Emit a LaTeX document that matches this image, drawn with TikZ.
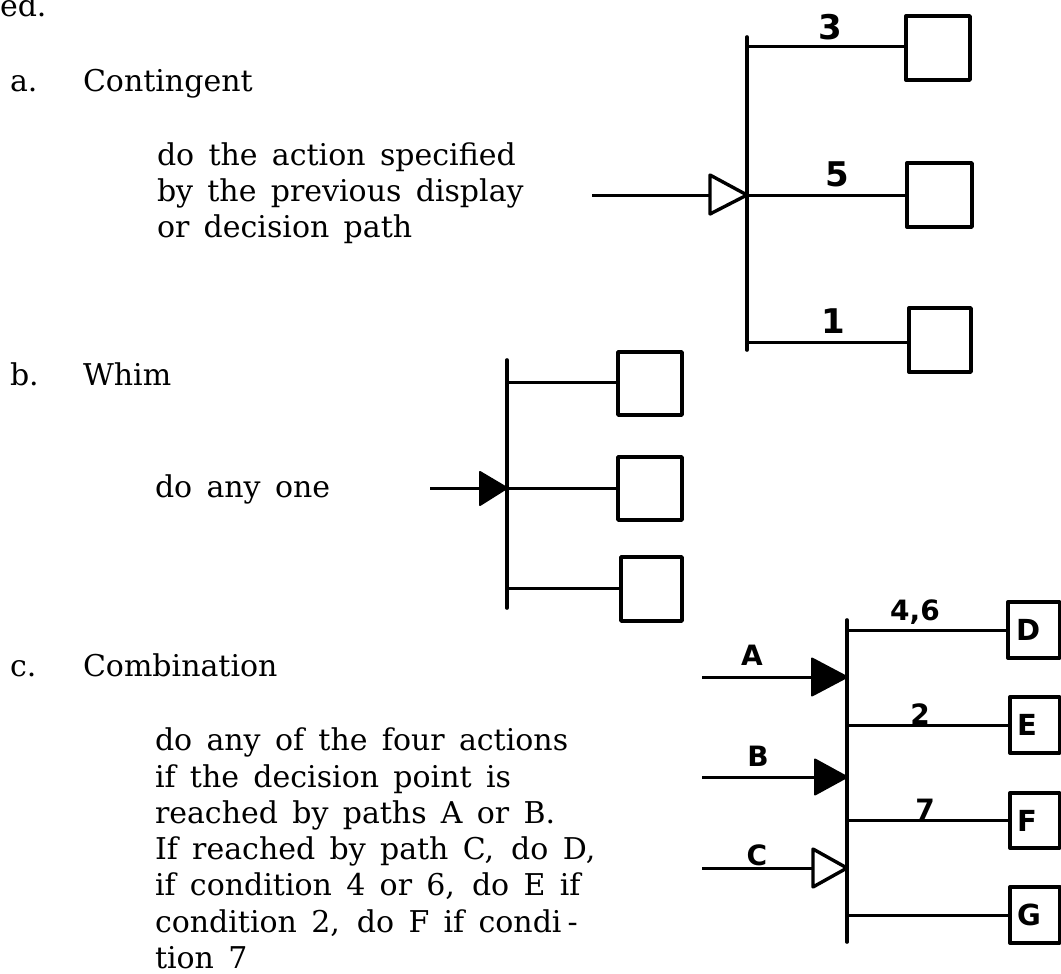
\documentclass[tikz,border=0pt]{standalone}
\usepackage{fontspec}
\setmainfont{DejaVu Serif}[WordSpace=1.5]
\newfontfamily\hand{DejaVu Sans}
\begin{document}
\begin{tikzpicture}[x=1pt,y=-1pt,
  txt/.style={anchor=base west,inner sep=0pt,outer sep=0pt,font=\fontsize{30}{36}\selectfont},
  bar/.style={line width=3.6pt,line cap=round},
  link/.style={line width=3pt},
  boxn/.style={draw,line width=3.4pt,inner sep=0pt,outer sep=0pt,line join=round},
  boxl/.style={boxn,text width=42pt,align=left,font=\hand\bfseries\fontsize{29}{29}\selectfont},
  lbl/.style={inner sep=0pt,font=\hand\bfseries\fontsize{28}{28}\selectfont},
  lblbig/.style={inner sep=0pt,font=\hand\bfseries\fontsize{34}{34}\selectfont},
  opentri/.style={line width=3.4pt,line join=round,fill=white},
  filltri/.style={line width=2pt,line join=round,fill=black},
]
\useasboundingbox (0,0) rectangle (1061,974);
% ---------------- texts
\node[txt] (ed) at (0,17) {ed.};
\node[txt] (la) at (10,92) {a.};
\node[txt] (ta) at (83,92) {Contingent};
\node[txt] (pa1) at (157,165) {do the action specified};
\node[txt] (pa2) at (157,201) {by the previous display};
\node[txt] (pa3) at (157,237) {or decision path};
\node[txt] (lb) at (10,385) {b.};
\node[txt] (tb) at (83,385) {Whim};
\node[txt] (pb) at (155,497) {do any one};
\node[txt] (lc) at (10,676) {c.};
\node[txt] (tc) at (83,676) {Combination};
\node[txt] (pc1) at (155,750) {do any of the four actions};
\node[txt] (pc2) at (155,787) {if the decision point is};
\node[txt] (pc3) at (155,823) {reached by paths A or B.};
\node[txt] (pc4) at (155,859) {If reached by path C,\hspace{17pt}do D,};
\node[txt] (pc5) at (155,895) {if condition 4 or 6,\hspace{17pt}do E if};
\node[txt] (pc6) at (155,932) {condition 2,\hspace{17pt}do F if condi\hspace{6pt}-};
\node[txt] (pc7) at (155,968) {tion 7};
% ---------------- diagram a
\coordinate (atop) at (747,37);
\coordinate (abot) at (747,350);
\coordinate (aj) at (747,195);
\coordinate (ain) at (592,195);
\node[boxn,minimum width=64pt,minimum height=64pt] (a1) at (938,48) {};
\node[boxn,minimum width=65pt,minimum height=64pt] (a2) at (939.5,195) {};
\node[boxn,minimum width=62pt,minimum height=64pt] (a3) at (940,340) {};
\draw[bar] (atop) -- (abot);
\draw[link] (atop |- 0,47) -- (a1.west |- 0,47);
\draw[link] (aj) -- (a2.west);
\draw[link] (atop |- 0,342) -- (a3.west |- 0,342);
\node[lblbig] (l3) at (830,27) {3};
\node[lblbig] (l5) at (837,174) {5};
\node[lblbig] (l1) at (833,321) {1};
\draw[link] (ain) -- ([xshift=-37pt]aj);
\draw[opentri] (aj) -- ++(-37,-20) -- ++(0,39) -- cycle;
% ---------------- diagram b
\coordinate (btop) at (507,360);
\coordinate (bbot) at (507,608);
\coordinate (bj) at (507,488);
\coordinate (bin) at (430,488);
\node[boxn,minimum width=64pt,minimum height=63pt] (b1) at (650,383.5) {};
\node[boxn,minimum width=64pt,minimum height=63pt] (b2) at (650,488.5) {};
\node[boxn,minimum width=61pt,minimum height=64pt] (b3) at (651.5,589) {};
\draw[bar] (btop) -- (bbot);
\draw[link] (btop |- 0,382) -- (b1.west |- 0,382);
\draw[link] (bj) -- (b2.west |- bj);
\draw[link] (btop |- 0,588) -- (b3.west |- 0,588);
\draw[link] (bin) -- (bj);
\draw[filltri] (bj) -- ++(-27,-16) -- ++(0,33) -- cycle;
% ---------------- diagram c
\coordinate (ctop) at (847,620);
\coordinate (cbot) at (847,942);
\coordinate (cja) at (847,677);
\coordinate (cjb) at (847,777);
\coordinate (cjc) at (847,868);
\coordinate (cina) at (702,677);
\coordinate (cinb) at (702,777);
\coordinate (cinc) at (702,868);
\node[boxl,minimum width=52pt,minimum height=56pt] (D) at (1034,630) {\hspace*{3pt}D};
\node[boxl,minimum width=50pt,minimum height=56pt] (E) at (1035,725) {\hspace*{3pt}E};
\node[boxl,minimum width=50pt,minimum height=55pt] (F) at (1035,820.5) {\hspace*{3pt}F};
\node[boxl,minimum width=50pt,minimum height=56pt] (G) at (1035,915) {\hspace*{3pt}G};
\draw[bar] (ctop) -- (cbot);
\draw[link] (ctop |- D.west) -- (D.west);
\draw[link] (ctop |- E.west) -- (E.west);
\draw[link] (ctop |- F.west) -- (F.west);
\draw[link] (ctop |- G.west) -- (G.west);
\node[lbl] (l46) at (915,612) {4,6};
\node[lbl] (l2) at (920,714) {2};
\node[lbl] (l7) at (925,809) {7};
\node[lbl] (lA) at (752,655) {A};
\node[lbl] (lB) at (758,756) {B};
\node[lbl] (lC) at (757,855) {C};
\draw[link] (cina) -- (cja);
\draw[filltri] (cja) -- ++(-35,-18.5) -- ++(0,37) -- cycle;
\draw[link] (cinb) -- (cjb);
\draw[filltri] (cjb) -- ++(-32,-17.5) -- ++(0,35) -- cycle;
\draw[link] (cinc) -- ([xshift=-34pt]cjc);
\draw[opentri] (cjc) -- ++(-34,-19) -- ++(0,38) -- cycle;
\end{tikzpicture}
\end{document}
